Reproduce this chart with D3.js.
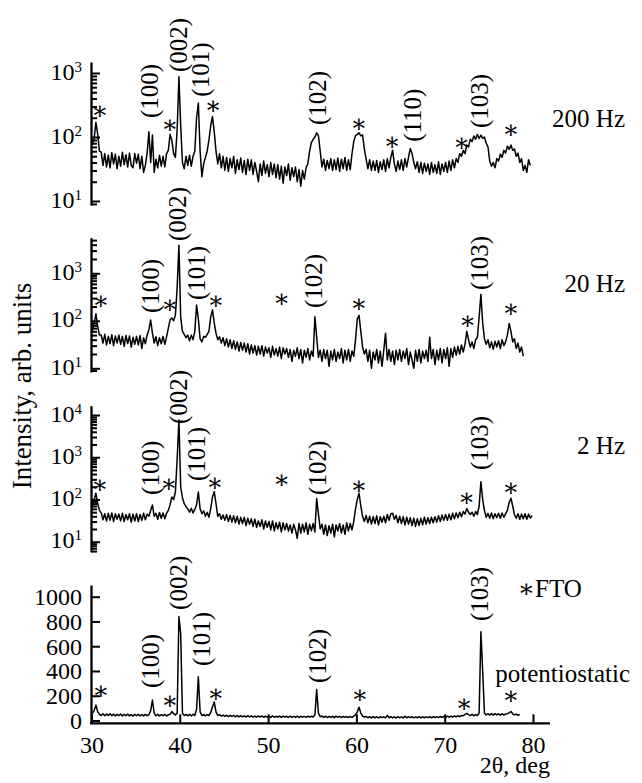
<!DOCTYPE html>
<html>
<head>
<meta charset="utf-8">
<style>
  body { margin: 0; background: #fff; }
  svg, svg text { font-family: "Liberation Serif", "DejaVu Serif", serif; }
  svg text { fill: #000; }
  .trace { fill: none; stroke: #000; stroke-width: 1.5; stroke-linejoin: round; }
  .axis path, .axis line { stroke: #000; }
</style>
</head>
<body>
<svg id="chart" width="642" height="783" font-family="Liberation Serif, DejaVu Serif, serif"></svg>
<script src="https://cdn.jsdelivr.net/npm/d3@7"></script>
<script>
// 2theta grid of the scans
const thetaStart = 30.1
const thetaStep = 0.2

// 200 Hz, counts (log panel)
const int200 = [
  75, 95, 170, 110, 60,   58, 36, 55, 34, 52,   33, 57, 38, 54, 32,   50, 35, 58, 37, 53,
  34, 56, 36, 33, 55,     39, 54, 32, 50, 28,   36, 56, 121, 40, 107, 28, 45, 33, 52, 35,
  50, 34, 55, 62, 110,    88, 55, 48, 130, 875, 150, 40, 32, 50, 36,  52, 35, 50, 60, 200,
  340, 60, 24, 38, 48,    60, 90, 150, 210, 120, 60, 38, 55, 33, 50,  30, 48, 29, 46, 33,
  50, 27, 44, 31, 47,     28, 43, 26, 45, 30,   44, 26, 40, 29, 20,   38, 25, 42, 27, 37,
  24, 40, 26, 38, 23,     37, 22, 35, 19, 34,   25, 38, 21, 33, 24,   34, 20, 31, 17, 30,
  22, 33, 38, 60, 82,     92, 100, 116, 105, 60, 34, 45, 30, 43, 32,  46, 30, 44, 31, 47,
  29, 45, 32, 48, 30,     44, 31, 55, 85, 105,  110, 116, 104, 108, 65, 45, 32, 44, 30, 42,
  30, 43, 28, 41, 31,     44, 29, 46, 33, 48,   62, 38, 29, 42, 31,   44, 30, 46, 34, 48,
  66, 55, 40, 32, 41,     28, 40, 27, 39, 29,   38, 26, 40, 28, 37,   27, 41, 26, 38, 29,
  40, 28, 42, 30, 44,     33, 46, 40, 55, 50,   62, 55, 75, 70, 92,   85, 104, 92, 110, 95,
  107, 95, 100, 80, 70,   42, 35, 40, 33, 46,   42, 54, 48, 62, 56,   72, 64, 75, 62, 65,
  50, 56, 40, 46, 30,     36, 28, 44, 36
]

// 20 Hz
const int20 = [
  60, 90, 140, 75, 50,    50, 34, 52, 31, 47,   33, 51, 30, 48, 34,   50, 32, 47, 29, 49,
  33, 48, 28, 45, 32,     47, 31, 49, 26, 44,   33, 50, 65, 104, 55,  34, 46, 30, 44, 33,
  47, 32, 46, 70, 105,    115, 100, 130, 500, 3900, 120, 60, 52, 44, 50, 38, 50, 40, 60, 215,
  110, 42, 36, 47, 45,    52, 60, 120, 170, 90, 55, 40, 46, 34, 44,  30, 42, 28, 40, 26,
  38, 25, 36, 23, 35,     24, 34, 22, 33, 20,   31, 21, 30, 19, 29,   20, 30, 18, 28, 21,
  27, 17, 29, 19, 26,     18, 28, 16, 27, 20,   26, 17, 25, 14, 24,   18, 27, 16, 25, 13,
  24, 17, 26, 15, 23,     18, 122, 45, 17, 24,  14, 25, 16, 24, 11,   23, 15, 25, 14, 22,
  16, 26, 13, 24, 15,     25, 14, 23, 18, 40,   110, 130, 60, 28, 20,  25, 14, 24, 10, 22,
  15, 25, 13, 23, 11,     24, 55, 15, 25, 14,   23, 12, 24, 15, 25,   14, 23, 16, 26, 12,
  22, 15, 10, 24, 14,     25, 13, 23, 16, 24,   14, 45, 16, 25, 12,   24, 15, 26, 13, 25,
  16, 27, 11, 26, 17,     28, 19, 29, 20, 31,   22, 32, 60, 40, 28,   36, 26, 40, 45, 120,
  360, 90, 42, 32, 40,    27, 36, 25, 37, 28,   38, 26, 40, 30, 36,   50, 88, 60, 36, 42,
  26, 34, 22, 28, 18
]

// 2 Hz
const int2 = [
  70, 100, 140, 80, 55,   48, 33, 46, 31, 47,   32, 48, 30, 46, 34,   45, 31, 47, 30, 44,
  33, 46, 29, 45, 31,     46, 30, 44, 32, 47,   33, 45, 40, 55, 74,   40, 47, 34, 49, 36,
  48, 35, 47, 55, 75,     115, 100, 150, 900, 7600, 200, 110, 80, 68, 60, 50, 62, 48, 58, 75,
  150, 60, 46, 54, 40,    50, 38, 60, 115, 153, 80, 40, 46, 34, 43,  32, 44, 30, 42, 29,
  41, 28, 40, 26, 38,     27, 38, 24, 36, 26,   35, 23, 34, 22, 31,   23, 33, 20, 31, 22,
  30, 19, 31, 18, 28,     20, 29, 17, 28, 19,   27, 18, 25, 16, 26,   19, 12, 27, 16, 26,
  17, 28, 15, 26, 18,     27, 17, 105, 45, 20,  26, 15, 25, 14, 24,   16, 26, 13, 25, 18,
  27, 16, 25, 15, 28,     18, 27, 19, 30, 60,   100, 140, 70, 40, 30,  42, 28, 40, 26, 39,
  27, 41, 25, 39, 29,     40, 28, 44, 32, 46,   47, 34, 42, 28, 40,   27, 39, 25, 38, 26,
  37, 24, 36, 23, 35,     24, 36, 25, 38, 26,   37, 27, 38, 28, 39,   29, 41, 30, 43, 32,
  44, 32, 45, 33, 47,     35, 48, 37, 50, 39,   52, 45, 61, 50, 44,   50, 40, 52, 44, 70,
  264, 100, 55, 38, 47,   36, 48, 35, 46, 37,   47, 36, 48, 38, 46,   55, 85, 107, 70, 44,
  36, 46, 34, 45, 35,     46, 34, 45, 36, 42
]

// potentiostatic (linear panel)
const intPot = [
  58, 80, 125, 70, 50,    40, 55, 38, 52, 41,   54, 39, 51, 37, 50,   40, 53, 36, 50, 38,
  52, 37, 49, 35, 51,     38, 50, 36, 48, 37,   50, 39, 46, 80, 165,  60, 38, 50, 37, 48,
  39, 50, 36, 47, 50,     72, 55, 45, 60, 840,  700, 60, 40, 50, 38,  49, 37, 51, 40, 90,
  354, 70, 40, 48, 38,    47, 40, 65, 110, 150, 70, 40, 47, 36, 44,  34, 43, 32, 42, 33,
  41, 30, 40, 29, 39,     30, 38, 28, 39, 29,   38, 28, 36, 27, 37,   28, 37, 26, 36, 27,
  35, 25, 37, 26, 34,     27, 36, 25, 35, 28,   34, 24, 36, 26, 33,   25, 35, 24, 34, 27,
  33, 25, 35, 27, 34,     28, 45, 250, 60, 30,  36, 25, 35, 24, 33,   26, 34, 23, 35, 25,
  33, 24, 34, 26, 32,     24, 33, 25, 35, 45,   70, 107, 60, 36, 27,  33, 22, 31, 21, 32,
  22, 31, 20, 30, 23,     30, 21, 42, 22, 31,   21, 30, 20, 31, 22,   30, 21, 35, 22, 31,
  23, 30, 21, 29, 22,     31, 21, 30, 22, 29,   23, 31, 22, 32, 24,   31, 23, 33, 24, 34,
  26, 35, 27, 36, 28,     37, 29, 39, 31, 40,   38, 50, 58, 48, 40,   50, 38, 48, 40, 60,
  717, 400, 60, 45, 55,   44, 56, 43, 55, 45,   54, 43, 55, 44, 53,   55, 62, 72, 54, 45,
  52, 42, 48
]

// reflex labels: [text, 2theta, intensity at the lower end of the label]
const labels200 = [["(100)", 36.72, 198], ["(002)", 40.02, 1037], ["(101)", 42.51, 427],
  ["(102)", 55.69, 154], ["(110)", 66.44, 84], ["(103)", 74.08, 138]]
const labels20 = [["(100)", 36.82, 146], ["(002)", 39.83, 4786], ["(101)", 41.98, 274],
  ["(102)", 55.2, 186], ["(103)", 74.08, 445]]
const labels2 = [["(100)", 36.82, 128], ["(002)", 40.02, 6124], ["(101)", 41.98, 274],
  ["(102)", 55.69, 128], ["(103)", 74.08, 499]]
const labelsPot = [["(100)", 36.82, 262], ["(002)", 40.02, 893], ["(101)", 42.55, 440],
  ["(102)", 55.69, 303], ["(103)", 74.08, 804]]

// FTO reflexes (asterisks): [2theta, intensity]
const stars200 = [[30.96, 248], [38.89, 150], [43.79, 297], [60.29, 154], [64.07, 83], [71.93, 80], [77.51, 128]]
const stars20 = [[31.08, 252], [38.89, 215], [44.1, 261], [51.54, 284], [60.29, 222], [72.6, 96], [77.51, 169]]
const stars2 = [[30.96, 220], [38.78, 229], [43.99, 241], [51.54, 278], [60.29, 200], [72.49, 103], [77.51, 177]]
const starsPot = [[31.08, 233], [38.89, 152], [44.1, 214], [60.41, 200], [72.22, 133], [77.51, 192]]

const xTicks = [30, 40, 50, 60, 70, 80]
const linTicks = [0, 200, 400, 600, 800, 1000]

const serif = "Liberation Serif, DejaVu Serif, serif"
const star = "\u2217"
const svg = d3.select("#chart")
const x = d3.scaleLinear().domain([30, 80]).range([91.5, 533])

const panels = [
  { name: "200 Hz", data: int200, labels: labels200, stars: stars200, log: true,
    anchors: [[10, 201], [1000, 73]], top: 62, bottom: 205, nameX: 625, nameY: 127 },
  { name: "20 Hz", data: int20, labels: labels20, stars: stars20, log: true,
    anchors: [[10, 368.3], [1000, 273.3]], top: 237.7, bottom: 372, nameX: 625, nameY: 292 },
  { name: "2 Hz", data: int2, labels: labels2, stars: stars2, log: true,
    anchors: [[10, 541.7], [10000, 415]], top: 405.7, bottom: 551.7, nameX: 625, nameY: 454 },
  { name: "potentiostatic", data: intPot, labels: labelsPot, stars: starsPot, log: false,
    anchors: [[0, 720.5], [1000, 596.7]], top: 585, bottom: 723.3, nameX: 630, nameY: 682 }
]

const isMajor = v => Math.abs(Math.log10(v) - Math.round(Math.log10(v))) < 1e-9

panels.forEach(p => {
  let y = p.log ? d3.scaleLog() : d3.scaleLinear()
  y.domain([p.anchors[0][0], p.anchors[1][0]]).range([p.anchors[0][1], p.anchors[1][1]])
  y.domain([y.invert(p.bottom), y.invert(p.top)]).range([p.bottom, p.top])

  let ticks = p.log ? y.ticks() : linTicks
  let ax = d3.axisLeft(y).tickValues(ticks).tickFormat(() => "")
    .tickSizeInner(-9).tickSizeOuter(0).tickPadding(9)

  let g = svg.append("g").attr("class", "axis").attr("transform", `translate(${x(30) - 0.5},0)`)
  g.call(ax)
  g.attr("font-family", serif)
  g.select(".domain").attr("stroke-width", 2.3)
  g.selectAll(".tick line").attr("stroke-width", 2)
    .attr("x2", d => (!p.log || isMajor(d)) ? 9 : 6)

  g.selectAll(".tick text").attr("font-size", 24).attr("dy", null)
    .each(function (d) {
      let t = d3.select(this)
      if (p.log) {
        if (!isMajor(d)) return
        t.attr("y", 6)
        t.append("tspan").text("10")
        t.append("tspan").attr("font-size", 15).attr("dy", -8).text(Math.round(Math.log10(d)))
      } else {
        t.attr("y", 8).text(d)
      }
    })

  let line = d3.line()
    .x((d, i) => x(thetaStart + i * thetaStep))
    .y(d => y(d))

  svg.append("path").datum(p.data).attr("class", "trace").attr("d", line)

  svg.append("g").selectAll("text").data(p.labels).enter().append("text")
    .attr("transform", d => `translate(${x(d[1])},${y(d[2])}) rotate(-90)`)
    .attr("dy", "0.3em")
    .attr("font-size", 25)
    .text(d => d[0])

  svg.append("g").selectAll("text").data(p.stars).enter().append("text")
    .attr("x", d => x(d[0]))
    .attr("y", d => y(d[1]))
    .attr("dy", "0.3em")
    .attr("text-anchor", "middle")
    .attr("font-size", 25)
    .text(star)

  svg.append("text").attr("x", p.nameX).attr("y", p.nameY)
    .attr("text-anchor", "end").attr("font-size", 25).text(p.name)

  if (!p.log) {
    let xa = svg.append("g").attr("class", "axis").attr("transform", `translate(0,${p.bottom})`)
    xa.call(d3.axisBottom(x).tickValues(xTicks).tickSizeInner(-9).tickSizeOuter(0).tickPadding(13))
    xa.attr("font-family", serif)
    xa.select(".domain").remove()
    xa.append("line").attr("x1", x(30) - 1.5).attr("x2", 550).attr("stroke", "#000").attr("stroke-width", 2.3)
    xa.selectAll(".tick line").attr("stroke-width", 2)
    xa.selectAll(".tick text").attr("font-size", 24)
  }
})

svg.append("text").attr("x", 518).attr("y", 597).attr("font-size", 25).text(star + "FTO")

svg.append("text").attr("x", 550).attr("y", 773).attr("text-anchor", "end")
  .attr("font-size", 24).text("2θ, deg")

svg.append("text").attr("transform", "translate(22,386) rotate(-90)")
  .attr("text-anchor", "middle").attr("dominant-baseline", "central")
  .attr("font-size", 27).text("Intensity, arb. units")
</script>
</body>
</html>
